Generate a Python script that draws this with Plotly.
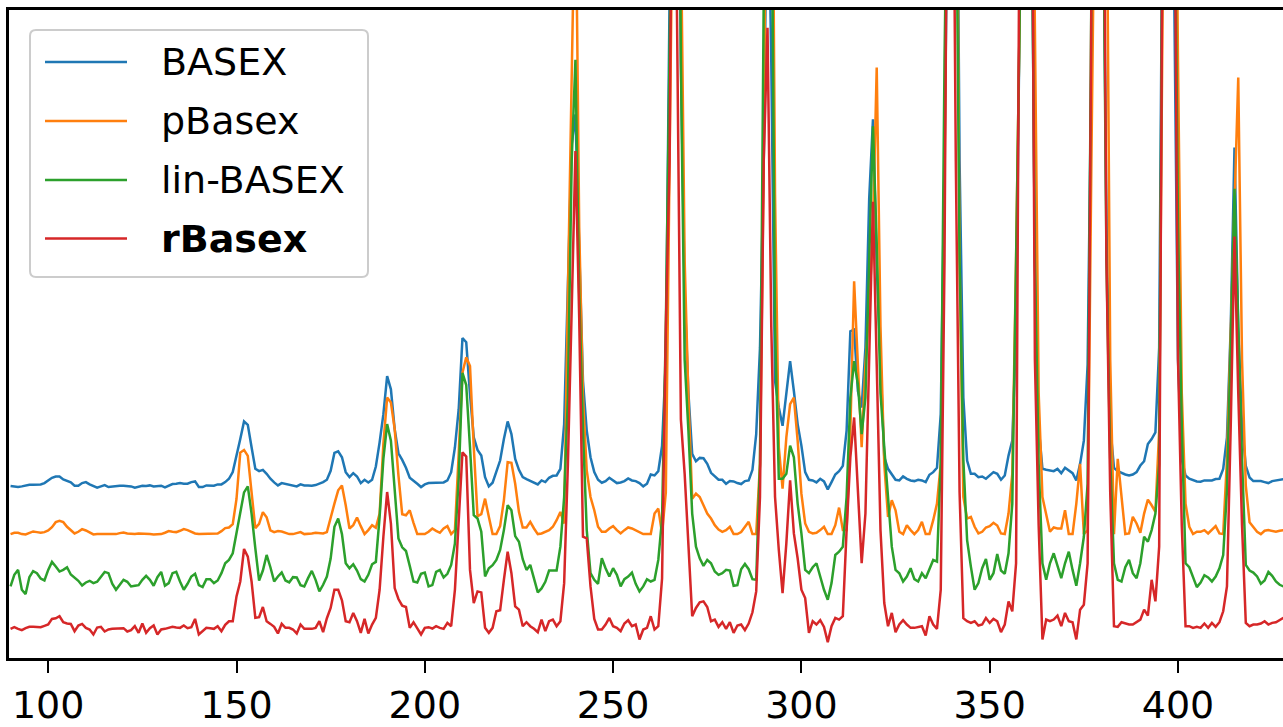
import plotly.graph_objects as go

# sample positions (integer steps along the radius axis)
x_values = list(range(90, 429))

series_names = ["BASEX", "pBasex", "lin-BASEX", "rBasex"]
series_colors = ["#1f77b4", "#ff7f0e", "#2ca02c", "#d62728"]
x_ticks = [100, 150, 200, 250, 300, 350, 400]

basex = [
    519, 518, 516, 518, 521, 523, 523, 523, 524, 528,
    536, 544, 548, 548, 539, 534, 530, 520, 520, 528,
    531, 524, 518, 514, 518, 522, 516, 518, 519, 520,
    520, 520, 518, 514, 518, 520, 519, 521, 518, 520,
    520, 515, 520, 525, 526, 528, 526, 526, 531, 533,
    516, 516, 521, 520, 520, 524, 524, 531, 541, 561,
    608, 661, 714, 704, 636, 571, 564, 568, 556, 541,
    530, 521, 528, 526, 524, 521, 518, 524, 521, 521,
    520, 522, 526, 531, 538, 565, 619, 624, 606, 561,
    546, 558, 548, 528, 538, 530, 538, 578, 651, 736,
    851, 811, 691, 618, 598, 574, 544, 536, 526, 516,
    524, 528, 529, 529, 529, 530, 536, 561, 636, 751,
    966, 953, 796, 666, 628, 611, 546, 518, 529, 561,
    596, 661, 714, 676, 601, 568, 546, 540, 534, 528,
    524, 536, 531, 544, 550, 551, 571, 706, 1150, 1550,
    1641, 1200, 836, 686, 606, 561, 538, 529, 534, 544,
    536, 528, 530, 534, 542, 536, 534, 528, 518, 526,
    554, 551, 564, 640, 900, 2000, 3500, 3000, 1800, 1100,
    800, 616, 594, 604, 603, 586, 559, 548, 538, 538,
    526, 534, 533, 528, 525, 534, 536, 568, 676, 936,
    1500, 2500, 1800, 836, 756, 701, 796, 896, 806, 706,
    641, 561, 538, 536, 530, 541, 533, 509, 531, 554,
    564, 580, 686, 986, 991, 806, 756, 936, 1386, 1626,
    1186, 886, 606, 571, 556, 538, 536, 548, 541, 536,
    534, 538, 536, 531, 553, 561, 574, 736, 1500, 3000,
    3500, 3000, 1500, 786, 596, 556, 556, 546, 548, 541,
    551, 561, 556, 538, 551, 611, 656, 986, 2000, 3500,
    3500, 2500, 1200, 700, 571, 568, 566, 564, 571, 558,
    574, 566, 558, 536, 586, 656, 886, 1800, 3500, 3500,
    2500, 1300, 700, 574, 564, 558, 554, 551, 554, 561,
    581, 594, 646, 661, 681, 936, 2500, 3500, 3500, 2000,
    900, 600, 551, 541, 536, 533, 532, 536, 536, 536,
    540, 541, 571, 666, 1000, 1541, 1000, 700, 580, 545,
    534, 534, 534, 531, 528, 534, 536, 538, 540,
]

pbasex = [
    374, 378, 378, 374, 373, 378, 382, 380, 378, 380,
    385, 395, 410, 414, 410, 396, 386, 376, 381, 389,
    385, 378, 373, 374, 374, 374, 373, 373, 374, 377,
    379, 376, 374, 374, 376, 376, 376, 374, 373, 373,
    374, 378, 383, 381, 380, 384, 389, 386, 381, 376,
    374, 374, 374, 374, 374, 376, 383, 392, 394, 404,
    480, 620, 628, 610, 500, 392, 405, 440, 425, 385,
    380, 383, 382, 378, 374, 374, 378, 380, 374, 374,
    376, 378, 376, 376, 380, 425, 466, 506, 521, 461,
    391, 401, 424, 398, 374, 386, 401, 393, 436, 646,
    786, 771, 691, 551, 434, 431, 446, 408, 374, 374,
    374, 381, 391, 384, 378, 391, 398, 374, 386, 616,
    861, 908, 881, 636, 428, 434, 481, 426, 374, 374,
    398, 476, 591, 589, 526, 441, 394, 394, 411, 391,
    374, 376, 380, 386, 396, 416, 441, 406, 1100, 1700,
    2400, 1300, 786, 566, 486, 446, 396, 381, 381, 391,
    398, 386, 376, 386, 394, 391, 386, 381, 374, 374,
    374, 436, 451, 376, 500, 1500, 3000, 3500, 2200, 1200,
    786, 481, 496, 486, 461, 436, 421, 401, 388, 381,
    386, 396, 374, 374, 380, 396, 411, 374, 374, 586,
    1500, 3000, 3000, 1400, 636, 511, 666, 766, 786, 656,
    496, 406, 381, 376, 378, 386, 396, 374, 374, 401,
    454, 386, 386, 686, 1137, 886, 636, 886, 1050, 1300,
    1782, 1000, 586, 426, 476, 446, 381, 374, 401, 386,
    374, 386, 411, 374, 374, 416, 466, 586, 1400, 3000,
    3500, 3000, 1200, 486, 421, 426, 396, 376, 381, 394,
    398, 408, 400, 376, 374, 436, 556, 1200, 2500, 3500,
    3500, 3000, 1800, 800, 486, 436, 381, 394, 391, 391,
    446, 374, 374, 466, 586, 374, 386, 1500, 3500, 3500,
    3500, 2500, 900, 374, 601, 486, 374, 376, 426, 406,
    378, 436, 478, 461, 441, 686, 2000, 3500, 3500, 3000,
    1800, 800, 466, 396, 374, 381, 381, 386, 376, 386,
    398, 376, 374, 600, 1000, 1400, 1752, 900, 520, 410,
    396, 381, 374, 384, 386, 383, 381, 384, 386,
]

lin_basex = [
    216, 251, 266, 206, 193, 244, 262, 256, 240, 234,
    266, 290, 276, 261, 266, 274, 252, 242, 233, 219,
    228, 233, 226, 230, 246, 260, 256, 224, 206, 220,
    236, 230, 216, 218, 220, 236, 248, 236, 218, 244,
    260, 218, 226, 256, 260, 231, 206, 224, 246, 254,
    220, 214, 238, 238, 226, 234, 256, 286, 296, 316,
    376, 446, 500, 518, 436, 331, 234, 264, 311, 274,
    231, 246, 258, 234, 228, 244, 243, 220, 216, 241,
    263, 236, 201, 221, 246, 300, 396, 421, 374, 286,
    271, 283, 264, 238, 231, 251, 283, 290, 426, 601,
    706, 656, 496, 361, 334, 323, 278, 231, 228, 254,
    258, 216, 220, 260, 266, 243, 254, 281, 346, 541,
    861, 824, 636, 431, 421, 381, 246, 271, 280, 296,
    326, 386, 461, 446, 368, 351, 298, 266, 281, 236,
    198, 210, 230, 264, 264, 264, 336, 486, 786, 1500,
    1806, 1100, 686, 386, 256, 236, 224, 301, 271, 246,
    271, 251, 216, 238, 246, 258, 224, 201, 216, 238,
    231, 236, 296, 420, 1000, 1950, 3500, 3500, 1800, 900,
    686, 436, 336, 301, 278, 296, 286, 261, 251, 256,
    266, 264, 218, 220, 268, 284, 268, 238, 236, 586,
    2000, 3500, 2500, 1000, 541, 541, 556, 641, 606, 466,
    376, 266, 256, 274, 286, 248, 206, 176, 226, 311,
    321, 336, 486, 786, 896, 826, 676, 786, 1186, 1605,
    1250, 800, 636, 486, 336, 266, 256, 231, 246, 271,
    238, 231, 256, 241, 271, 296, 291, 586, 1800, 3500,
    3500, 2500, 1200, 600, 356, 276, 206, 226, 271, 299,
    236, 256, 314, 264, 254, 316, 466, 1200, 2800, 3500,
    3500, 2500, 1200, 586, 286, 236, 286, 316, 276, 241,
    286, 321, 266, 218, 286, 366, 526, 2000, 3500, 3500,
    2500, 1200, 600, 286, 236, 231, 274, 296, 256, 241,
    286, 366, 351, 386, 436, 586, 2500, 3500, 3500, 2500,
    1300, 700, 286, 274, 241, 214, 228, 250, 243, 231,
    246, 271, 311, 506, 950, 1416, 1000, 600, 281, 264,
    258, 246, 224, 234, 260, 248, 231, 221, 216,
]

rbasex = [
    88, 93, 88, 84, 90, 94, 94, 94, 93, 97,
    101, 118, 120, 126, 108, 104, 103, 81, 98, 103,
    91, 86, 71, 92, 94, 80, 86, 88, 88, 90,
    90, 80, 84, 96, 76, 104, 76, 90, 98, 71,
    86, 88, 92, 94, 92, 91, 98, 90, 93, 118,
    71, 81, 91, 90, 88, 96, 81, 100, 111, 111,
    186, 231, 329, 306, 231, 121, 123, 154, 111, 103,
    94, 74, 103, 91, 91, 86, 74, 101, 88, 88,
    88, 91, 111, 78, 120, 151, 206, 206, 174, 111,
    108, 136, 111, 76, 118, 74, 101, 121, 206, 366,
    501, 406, 211, 178, 158, 154, 91, 108, 90, 71,
    91, 93, 89, 96, 91, 88, 106, 96, 206, 396,
    621, 608, 266, 166, 201, 198, 91, 76, 91, 141,
    144, 236, 321, 256, 156, 146, 96, 108, 96, 88,
    78, 116, 81, 111, 116, 96, 111, 226, 586, 1050,
    1530, 1026, 366, 361, 216, 118, 86, 86, 101, 121,
    96, 91, 81, 104, 114, 96, 101, 56, 86, 91,
    126, 86, 96, 240, 1000, 1500, 3000, 1900, 720, 556,
    336, 126, 151, 168, 171, 154, 111, 116, 94, 108,
    88, 108, 76, 98, 101, 84, 104, 138, 201, 486,
    1500, 1902, 1000, 486, 326, 196, 346, 536, 376, 301,
    206, 181, 76, 111, 101, 114, 94, 48, 96, 121,
    116, 126, 386, 606, 726, 486, 286, 436, 886, 1377,
    886, 386, 166, 96, 136, 78, 101, 114, 101, 91,
    91, 94, 96, 68, 126, 101, 88, 206, 1200, 3000,
    3000, 1500, 500, 120, 111, 106, 111, 98, 101, 121,
    106, 118, 111, 78, 101, 171, 141, 286, 2500, 3500,
    3000, 3000, 900, 400, 56, 116, 111, 116, 128, 96,
    136, 111, 108, 56, 146, 161, 286, 2000, 3500, 3000,
    3000, 1200, 500, 96, 94, 108, 104, 101, 101, 108,
    116, 146, 128, 236, 171, 336, 2500, 3500, 3000, 2500,
    900, 400, 96, 96, 91, 94, 91, 104, 91, 106,
    94, 108, 141, 216, 700, 1272, 800, 400, 106, 96,
    101, 101, 104, 111, 101, 106, 108, 114, 121,
]

all_series = [basex, pbasex, lin_basex, rbasex]

FONT = "DejaVu Sans"
LINE_W = 2.5

fig = go.Figure()
for name, col, ys in zip(series_names, series_colors, all_series):
    fig.add_trace(go.Scatter(
        x=x_values, y=ys, mode="lines", name=name,
        line=dict(color=col, width=LINE_W), showlegend=False,
    ))

# hand-drawn legend (matplotlib style) in pixel offsets from the plot's top-left corner
shapes = [dict(
    type="path", xref="paper", yref="paper",
    xsizemode="pixel", ysizemode="pixel", xanchor=0, yanchor=1,
    path="M 27,-20 L 353,-20 Q 359,-20 359,-26 L 359,-261 Q 359,-267 353,-267 "
         "L 27,-267 Q 21,-267 21,-261 L 21,-26 Q 21,-20 27,-20 Z",
    line=dict(color="#cccccc", width=2), fillcolor="rgba(255,255,255,0.8)", layer="above",
)]
annotations = []
row_offsets = [52, 111, 170, 228.5]
for name, col, dy in zip(series_names, series_colors, row_offsets):
    shapes.append(dict(
        type="line", xref="paper", yref="paper",
        xsizemode="pixel", ysizemode="pixel", xanchor=0, yanchor=1,
        x0=36, x1=118, y0=-dy, y1=-dy,
        line=dict(color=col, width=LINE_W), layer="above",
    ))
    label = "<b>%s</b>" % name if name == "rBasex" else name
    annotations.append(dict(
        text=label, xref="paper", yref="paper", x=0, y=1,
        xanchor="left", yanchor="middle", xshift=150, yshift=-dy,
        showarrow=False, font=dict(family=FONT, size=38, color="black"),
    ))

fig.update_layout(
    width=1283, height=727,
    margin=dict(l=9, r=0, t=10, b=65, pad=0),
    paper_bgcolor="white", plot_bgcolor="white",
    font=dict(family=FONT, size=38, color="black"),
    shapes=shapes, annotations=annotations,
    xaxis=dict(
        range=[89.59, 427.88], showgrid=False, zeroline=False,
        showline=True, linecolor="black", linewidth=2.6, mirror=True,
        ticks="outside", ticklen=12, tickwidth=2.2, tickcolor="black",
        tickvals=x_ticks, ticktext=[str(t) for t in x_ticks],
        tickfont=dict(family=FONT, size=38, color="black"),
    ),
    yaxis=dict(
        range=[0, 1956], showgrid=False, zeroline=False,
        showline=True, linecolor="black", linewidth=2.6, mirror=False,
        ticks="", showticklabels=False,
    ),
)

fig.write_html("out.html")
